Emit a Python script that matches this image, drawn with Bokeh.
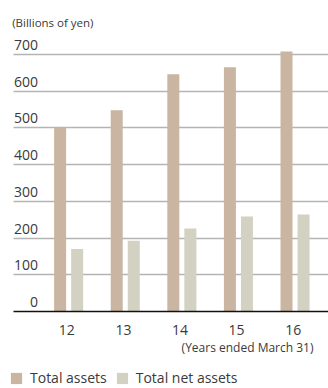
from bokeh.plotting import figure
from bokeh.models import Range1d, FixedTicker, Label, Legend, LegendItem, ColumnDataSource, Grid
from bokeh.core.properties import value
from bokeh.transform import dodge
from bokeh.embed import file_html
from bokeh.resources import INLINE

years = ["12", "13", "14", "15", "16"]
total_assets = [501, 548, 646, 665, 708]
total_net_assets = [170, 193, 226, 259, 264]
y_ticks = [0, 100, 200, 300, 400, 500, 600, 700]
y_tick_labels = [str(t) for t in y_ticks]
series_names = ["Total assets", "Total net assets"]

FONT = "Open Sans"
TEXT = "#3a3a3a"
C_ASSETS = "#c9b5a2"
C_NET = "#d3d1c2"

idx = list(range(len(years)))
src = ColumnDataSource(dict(x=idx, assets=total_assets, net=total_net_assets))

# layout: 56.6 px per category, first category centre 66.3 px from left edge
PX_X = 56.6
x_start = -66.3 / PX_X
x_end = x_start + 328 / PX_X
grid_x0 = x_start + 13 / PX_X
# y: value 0 at 311 px from top, 700 at 54 px
PX_Y = (311 - 54) / 700
y_start = -(388 - 311) / PX_Y
y_end = 311 / PX_Y

p = figure(width=328, height=388, output_backend="svg", toolbar_location=None,
           x_range=Range1d(x_start, x_end), y_range=Range1d(y_start, y_end),
           min_border_left=0, min_border_right=0, min_border_top=0, min_border_bottom=0,
           background_fill_color="white", border_fill_color="white")
p.outline_line_color = None
p.xaxis.visible = False
p.yaxis.visible = False
p.xgrid.visible = False
p.ygrid.visible = False

grid = Grid(dimension=1, ticker=FixedTicker(ticks=y_ticks[1:]),
            grid_line_color="#b4b4b4", grid_line_width=1.3)
base = Grid(dimension=1, ticker=FixedTicker(ticks=[0]),
            grid_line_color="#111111", grid_line_width=1.3, level="overlay")
for g in (grid, base):
    try:
        g.cross_bounds = (grid_x0, x_end)
    except Exception:
        pass
    p.add_layout(g)

r1 = p.vbar(x=dodge("x", -0.118), top="assets", width=0.212, source=src,
            fill_color=C_ASSETS, line_color=None)
r2 = p.vbar(x=dodge("x", 0.183), top="net", width=0.212, source=src,
            fill_color=C_NET, line_color=None)

# x tick labels
xsrc = ColumnDataSource(dict(x=idx, y=[0] * len(idx), t=years))
p.text(x="x", y="y", text="t", source=xsrc, y_offset=18,
       text_align="center", text_baseline="middle",
       text_font=value(FONT), text_font_size="14px", text_color=TEXT)

# y tick labels sitting above the gridlines
ysrc = ColumnDataSource(dict(x=[grid_x0] * len(y_ticks), y=y_ticks, t=y_tick_labels))
p.text(x="x", y="y", text="t", source=ysrc, x_offset=24.5, y_offset=-9.5,
       text_align="right", text_baseline="middle",
       text_font=value(FONT), text_font_size="14px", text_color=TEXT)

p.add_layout(Label(x=11.7, y=366, x_units="screen", y_units="screen", text="(Billions of yen)",
                   text_font=FONT, text_font_size="11.5px", text_color=TEXT,
                   text_baseline="middle", text_align="left"))
p.add_layout(Label(x=313, y=41, x_units="screen", y_units="screen", text="(Years ended March 31)",
                   text_font=FONT, text_font_size="12px", text_color=TEXT,
                   text_baseline="middle", text_align="right"))

legend = Legend(items=[LegendItem(label=series_names[0], renderers=[r1]),
                       LegendItem(label=series_names[1], renderers=[r2])],
                location=(9, 1), orientation="horizontal",
                glyph_width=14, glyph_height=14, label_height=14, label_standoff=7,
                spacing=8, padding=0, margin=0,
                border_line_color=None, background_fill_alpha=0,
                label_text_font=FONT, label_text_font_size="14px", label_text_color=TEXT)
p.add_layout(legend, "center")

open("out.html", "w").write(file_html(p, INLINE))
